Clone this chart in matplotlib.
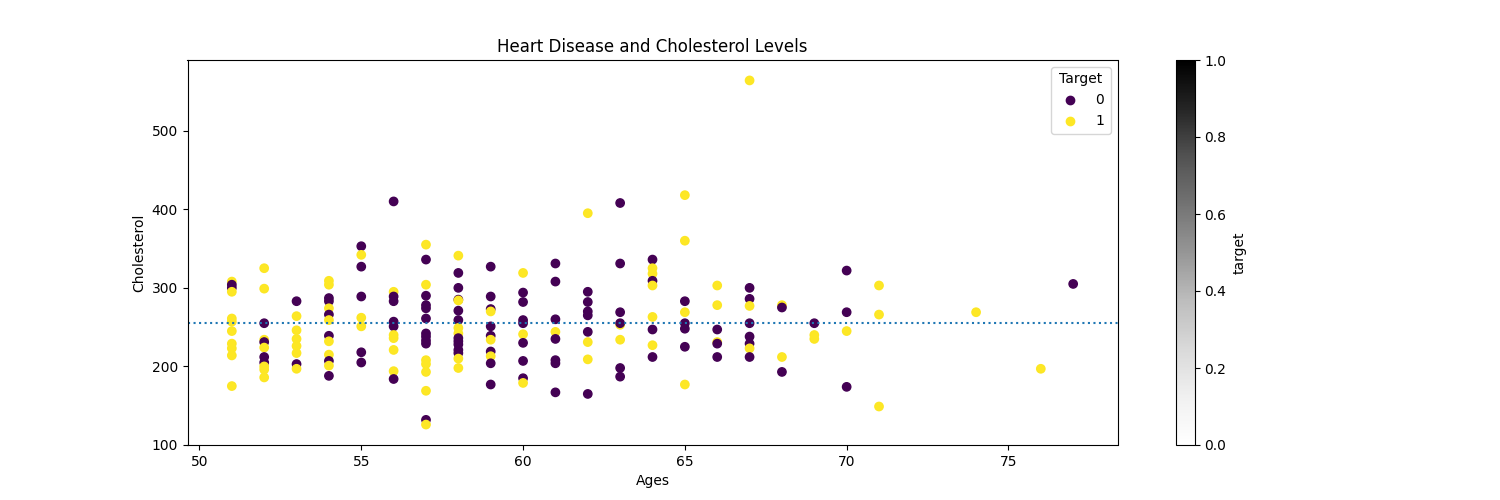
import numpy as np
import pandas as pd
from matplotlib import pyplot as plt

# values, grouped by age
age = ([51] * 11 + [52] * 11 + [53] * 8 + [54] * 13 + [55] * 8 + [56] * 11 + [57] * 17 + [58] * 16
       + [59] * 11 + [60] * 10 + [61] * 8 + [62] * 9 + [63] * 8 + [64] * 9 + [65] * 8 + [66] * 6
       + [67] * 9 + [68] * 4 + [69] * 3 + [70] * 4 + [71] * 3 + [74] + [76] + [77])
chol = [308, 304, 300, 295, 261, 257, 245, 229, 223, 214, 175,
        325, 299, 255, 234, 231, 224, 212, 205, 200, 196, 186,
        283, 264, 246, 235, 226, 217, 203, 197,
        309, 304, 287, 283, 274, 266, 259, 239, 232, 215, 207, 201, 188,
        353, 342, 327, 289, 262, 251, 218, 205,
        410, 295, 289, 283, 257, 251, 240, 236, 221, 194, 184,
        355, 336, 304, 290, 278, 274, 261, 242, 238, 233, 229, 208, 203, 193, 169, 132, 126,
        341, 319, 300, 285, 284, 271, 259, 249, 242, 236, 232, 228, 221, 217, 210, 198,
        327, 289, 273, 270, 251, 239, 234, 219, 213, 204, 177,
        319, 294, 282, 259, 255, 241, 230, 207, 185, 179,
        331, 308, 260, 244, 235, 208, 204, 167,
        395, 295, 282, 270, 265, 244, 231, 209, 165,
        408, 331, 269, 253, 255, 234, 198, 187,
        336, 325, 318, 309, 303, 263, 247, 227, 212,
        418, 360, 283, 269, 255, 248, 225, 177,
        303, 278, 247, 231, 229, 212,
        564, 300, 286, 277, 255, 238, 229, 223, 212,
        278, 275, 212, 193,
        255, 240, 235,
        322, 269, 245, 174,
        303, 266, 149,
        269,
        197,
        305]
target = [1, 0, 0, 1, 1, 1, 1, 1, 1, 1, 1,
          1, 1, 0, 1, 0, 1, 0, 0, 1, 1, 1,
          0, 1, 1, 1, 1, 1, 0, 1,
          1, 1, 0, 0, 1, 0, 1, 0, 1, 1, 0, 1, 0,
          0, 1, 0, 0, 1, 1, 0, 0,
          0, 1, 0, 0, 0, 0, 1, 1, 1, 1, 0,
          1, 0, 1, 0, 0, 0, 0, 0, 0, 0, 0, 1, 1, 1, 1, 0, 1,
          1, 0, 0, 0, 1, 0, 0, 1, 1, 0, 0, 0, 0, 0, 1, 1,
          0, 0, 0, 1, 0, 0, 1, 0, 1, 0, 0,
          1, 0, 0, 0, 0, 1, 0, 0, 0, 1,
          0, 0, 0, 1, 0, 0, 0, 0,
          1, 0, 0, 0, 0, 0, 1, 1, 0,
          0, 0, 0, 1, 0, 1, 0, 0,
          0, 1, 1, 0, 1, 1, 0, 1, 0,
          1, 1, 0, 1, 0, 0, 0, 1,
          1, 1, 0, 1, 0, 0,
          1, 0, 0, 1, 0, 0, 0, 1, 0,
          1, 0, 1, 0,
          0, 1, 1,
          0, 0, 1, 0,
          1, 1, 1,
          1,
          1,
          0]

df = pd.DataFrame({"age": age, "chol": chol, "target": target})

fig, ax = plt.subplots(figsize=(15, 5), dpi=100)
grey = ax.scatter(df.age, df.chol, c=df.target, cmap="Greys", s=20)
cbar = fig.colorbar(grey, ax=ax)
cbar.set_label("target")

scatter = ax.scatter(df.age, df.chol, c=df.target)
ax.legend(*scatter.legend_elements(), title="Target")
ax.axhline(df.chol.mean(), linestyle=":")

ax.set_title("Heart Disease and Cholesterol Levels")
ax.set_xlabel("Ages")
ax.set_ylabel("Cholesterol")
ax.set_xlim(49.63, 78.37)
ax.set_ylim(100, 590)

plt.savefig("out.png")
